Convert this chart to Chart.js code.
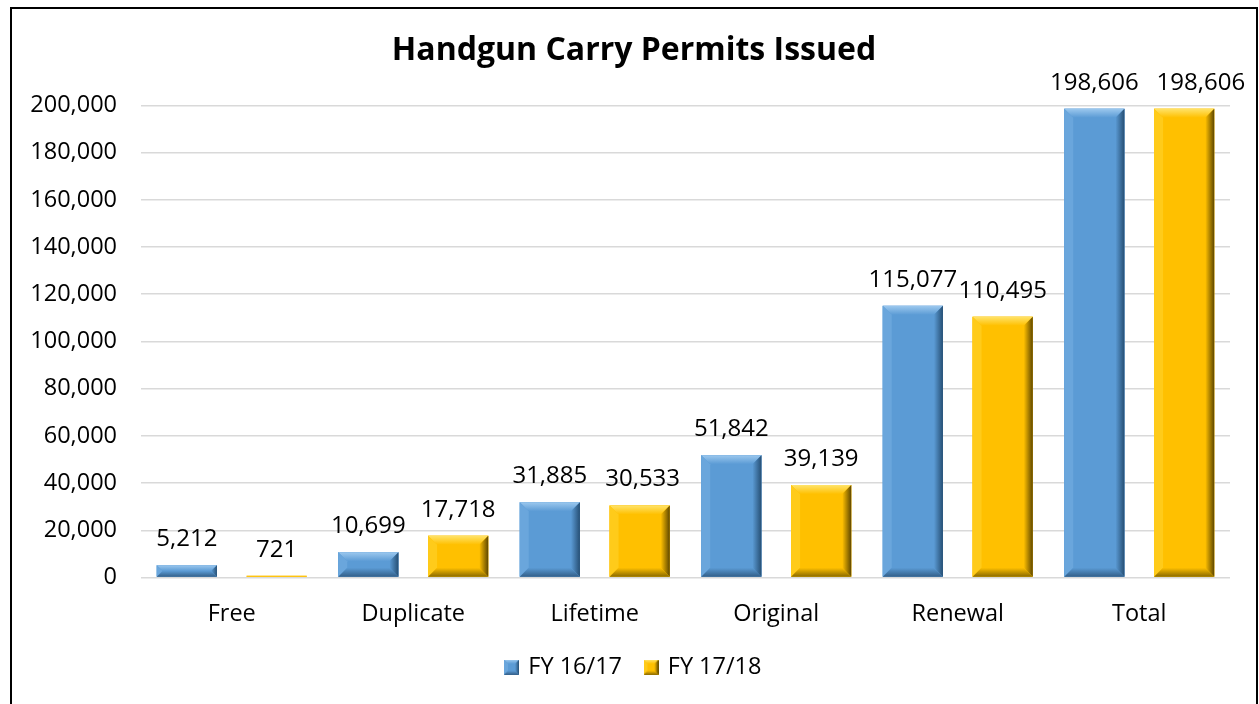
<!DOCTYPE html>
<html lang="en">
<head>
<meta charset="UTF-8">
<title>Handgun Carry Permits Issued</title>
<style>
  html, body { margin: 0; padding: 0; background: #fff; }
  #wrap { position: relative; width: 1259px; height: 704px; overflow: hidden; }
  #frame { position: absolute; left: 10px; top: 7px; width: 1248px; height: 740px;
           border: 2px solid #000; box-sizing: border-box; pointer-events: none; }
  canvas { position: absolute; left: 0; top: 0; }
</style>
</head>
<body>
<div id="wrap">
  <canvas id="chart" width="1259" height="704"></canvas>
  <div id="frame"></div>
</div>
<script src="https://cdn.jsdelivr.net/npm/chart.js"></script>
<script>
  const categories = ['Free', 'Duplicate', 'Lifetime', 'Original', 'Renewal', 'Total'];
  const fy1617 = [5212, 10699, 31885, 51842, 115077, 198606];
  const fy1718 = [721, 17718, 30533, 39139, 110495, 198606];
  const seriesNames = ['FY 16/17', 'FY 17/18'];
  const yMax = 200000;
  const yStep = 20000;

  const FONT = "'Open Sans', 'Noto Sans', sans-serif";

  // colours for each series: base, light (top), mid (left), dark (right), bottom
  const palettes = [
    { base: '#5b9bd5', light: '#9cc8ee', mid: '#6aa6dc', dark: '#264f74', bottom: '#335f88' },
    { base: '#ffc000', light: '#ffe36a', mid: '#ffcb1a', dark: '#5e4700', bottom: '#8a6a00' }
  ];

  function drawBevel(ctx, l, t, r, b, p, size) {
    const bv = Math.max(0, Math.min(size, (r - l) / 2, (b - t) / 2));
    ctx.save();
    ctx.fillStyle = p.base;
    ctx.fillRect(l, t, r - l, b - t);
    if (bv < 0.5) { ctx.restore(); return; }
    // top
    let g = ctx.createLinearGradient(0, t, 0, t + bv);
    g.addColorStop(0, p.light);
    g.addColorStop(1, p.base);
    ctx.fillStyle = g;
    ctx.beginPath();
    ctx.moveTo(l, t); ctx.lineTo(r, t); ctx.lineTo(r - bv, t + bv); ctx.lineTo(l + bv, t + bv);
    ctx.closePath(); ctx.fill();
    // left
    ctx.fillStyle = p.mid;
    ctx.beginPath();
    ctx.moveTo(l, t); ctx.lineTo(l + bv, t + bv); ctx.lineTo(l + bv, b - bv); ctx.lineTo(l, b);
    ctx.closePath(); ctx.fill();
    // right
    g = ctx.createLinearGradient(r - bv, 0, r, 0);
    g.addColorStop(0, p.base);
    g.addColorStop(1, p.dark);
    ctx.fillStyle = g;
    ctx.beginPath();
    ctx.moveTo(r, t); ctx.lineTo(r - bv, t + bv); ctx.lineTo(r - bv, b - bv); ctx.lineTo(r, b);
    ctx.closePath(); ctx.fill();
    // bottom
    g = ctx.createLinearGradient(0, b - bv, 0, b);
    g.addColorStop(0, p.base);
    g.addColorStop(1, p.bottom);
    ctx.fillStyle = g;
    ctx.beginPath();
    ctx.moveTo(l, b); ctx.lineTo(l + bv, b - bv); ctx.lineTo(r - bv, b - bv); ctx.lineTo(r, b);
    ctx.closePath(); ctx.fill();
    ctx.restore();
  }

  // small bevelled square for the legend
  function legendIcon(p) {
    const c = document.createElement('canvas');
    c.width = 15; c.height = 15;
    drawBevel(c.getContext('2d'), 0, 0, 15, 15, p, 4);
    return c;
  }
  const icons = palettes.map(legendIcon);

  const bevelBars = {
    id: 'bevelBars',
    afterDatasetsDraw(chart) {
      const ctx = chart.ctx;
      ctx.save();
      ctx.font = '24px ' + FONT;
      const labels = [];
      chart.data.datasets.forEach((ds, i) => {
        const meta = chart.getDatasetMeta(i);
        meta.data.forEach((bar, j) => {
          const l = bar.x - bar.width / 2, r = bar.x + bar.width / 2;
          const t = Math.min(bar.y, bar.base), b = Math.max(bar.y, bar.base);
          drawBevel(ctx, l, t, r, b, palettes[i], 9);
          const text = ds.data[j].toLocaleString('en-US');
          labels.push({ i, j, text, x: bar.x, y: t - 26, w: ctx.measureText(text).width });
        });
      });
      // push the second label right when two labels of a group sit on one line
      labels.filter(a => a.i === 1).forEach(a => {
        const o = labels.find(b => b.i === 0 && b.j === a.j);
        const need = (a.w + o.w) / 2 + 18;
        if (Math.abs(a.y - o.y) < 6 && a.x - o.x < need) a.x = o.x + need;
      });
      ctx.fillStyle = '#000';
      ctx.textAlign = 'center';
      ctx.textBaseline = 'middle';
      labels.forEach(a => ctx.fillText(a.text, a.x, a.y));
      ctx.restore();
    }
  };

  new Chart(document.getElementById('chart'), {
    type: 'bar',
    data: {
      labels: categories,
      datasets: [
        { label: seriesNames[0], data: fy1617, backgroundColor: palettes[0].base },
        { label: seriesNames[1], data: fy1718, backgroundColor: palettes[1].base }
      ]
    },
    options: {
      responsive: false,
      animation: false,
      devicePixelRatio: 1,
      categoryPercentage: 0.99,
      barPercentage: 0.67,
      layout: { padding: { left: 20, right: 11, top: 0, bottom: 15 } },
      plugins: {
        title: {
          display: true,
          text: 'Handgun Carry Permits Issued',
          color: '#000',
          font: { family: FONT, size: 32, weight: 'bold' },
          padding: { top: 32, bottom: 35 }
        },
        legend: {
          position: 'bottom',
          labels: {
            usePointStyle: true,
            pointStyleWidth: 10,
            color: '#000',
            font: { family: FONT, size: 23.5 },
            boxWidth: 15,
            boxHeight: 15,
            padding: 24,
            generateLabels: chart => chart.data.datasets.map((ds, i) => ({
              text: ds.label,
              pointStyle: icons[i],
              fillStyle: palettes[i].base,
              strokeStyle: palettes[i].base,
              lineWidth: 0,
              datasetIndex: i
            }))
          }
        },
        tooltip: { enabled: false }
      },
      scales: {
        x: {
          grid: { display: false },
          border: { display: false },
          ticks: { color: '#000', font: { family: FONT, size: 23.5 }, padding: 15 },
          afterFit: s => { s.height = 54; }
        },
        y: {
          min: 0,
          max: yMax,
          grid: { color: '#d9d9d9', lineWidth: 1.5, drawTicks: false },
          border: { display: false },
          ticks: {
            stepSize: yStep,
            color: '#000',
            font: { family: FONT, size: 23.5 },
            padding: 24,
            callback: v => v.toLocaleString('en-US')
          },
          afterFit: s => { s.width = 121; }
        },
        // empty right-hand spacer so the plot sits where the original has it
        yRight: {
          type: 'linear',
          position: 'right',
          grid: { display: false },
          border: { display: false },
          ticks: { display: false },
          afterFit: s => { s.width = 18; }
        }
      }
    },
    plugins: [bevelBars]
  });
</script>
</body>
</html>
